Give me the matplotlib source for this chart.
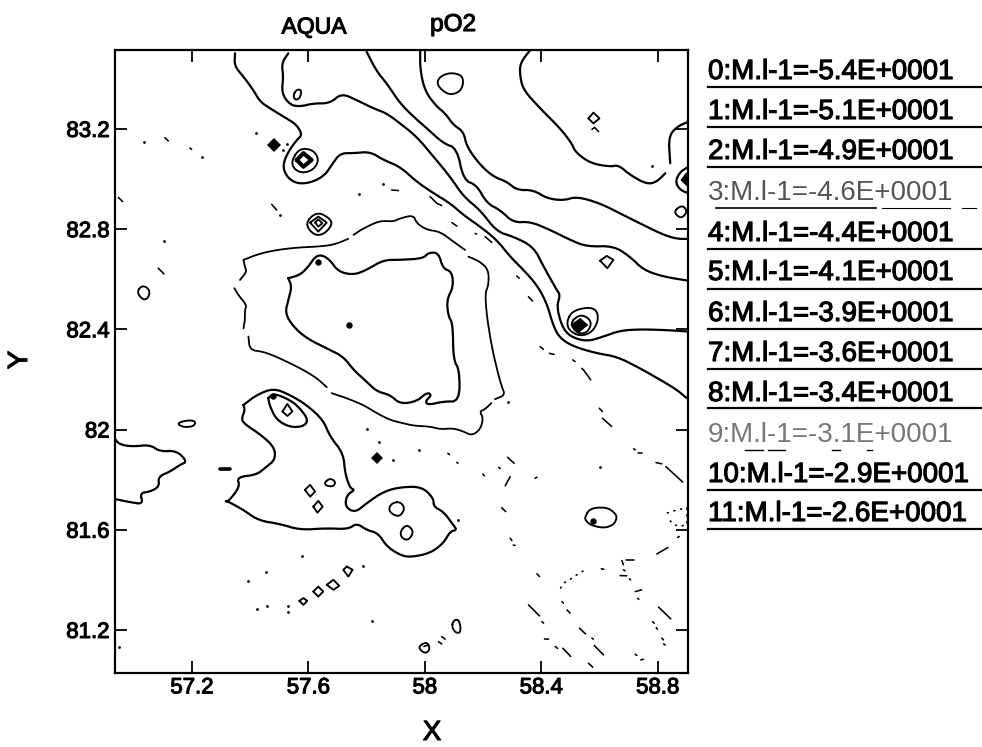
import matplotlib
matplotlib.use("Agg")
import matplotlib.pyplot as plt
import matplotlib.patheffects as pe
from matplotlib.lines import Line2D

plt.rcParams['font.family'] = ['Liberation Sans', 'DejaVu Sans']

x_ticks = [57.2, 57.6, 58.0, 58.4, 58.8]
x_tick_labels = ['57.2', '57.6', '58', '58.4', '58.8']
y_ticks = [81.2, 81.6, 82.0, 82.4, 82.8, 83.2]
y_tick_labels = ['81.2', '81.6', '82', '82.4', '82.8', '83.2']
legend_levels = ['-5.4', '-5.1', '-4.9', '-4.6', '-4.4', '-4.1', '-3.9', '-3.6', '-3.4', '-3.1', '-2.9', '-2.6']

contour_a = [(57.348,83.502),(57.346,83.451),(57.377,83.409),(57.411,83.355),(57.434,83.309),(57.468,83.282),(57.525,83.242),(57.560,83.216),(57.579,83.176),(57.560,83.156),(57.531,83.109),(57.514,83.063),(57.517,83.029),(57.537,82.996),(57.571,82.980),(57.617,82.989),(57.657,83.016),(57.680,83.056),(57.709,83.103),(57.755,83.103),(57.812,83.109),(57.858,83.076),(57.915,83.049),(57.972,82.989),(58.030,82.943),(58.087,82.903),(58.133,82.856),(58.190,82.810),(58.247,82.757),(58.293,82.690),(58.339,82.637),(58.385,82.577),(58.419,82.504),(58.442,82.411),(58.465,82.364),(58.511,82.331),(58.591,82.304),(58.660,82.291),(58.740,82.244),(58.820,82.191),(58.866,82.158),(58.900,82.125)]
contour_b = [(57.531,83.502),(57.508,83.462),(57.514,83.409),(57.508,83.342),(57.537,83.296),(57.571,83.289),(57.617,83.302),(57.674,83.302),(57.714,83.342),(57.766,83.315),(57.823,83.282),(57.869,83.262),(57.915,83.222),(57.972,83.169),(58.030,83.089),(58.087,83.009),(58.133,82.930),(58.190,82.876),(58.247,82.790),(58.304,82.770),(58.373,82.730),(58.408,82.650),(58.453,82.557),(58.465,82.537),(58.453,82.490),(58.471,82.411),(58.499,82.371),(58.556,82.351),(58.614,82.371),(58.671,82.395),(58.740,82.400),(58.831,82.397),(58.906,82.391)]
contour_c = [(57.800,83.508),(57.835,83.429),(57.869,83.382),(57.915,83.302),(57.961,83.249),(58.007,83.202),(58.064,83.142),(58.110,83.123),(58.133,82.996),(58.178,82.976),(58.213,82.903),(58.259,82.876),(58.304,82.826),(58.362,82.830),(58.430,82.797),(58.499,82.757),(58.556,82.730),(58.648,82.733),(58.705,82.690),(58.751,82.637),(58.820,82.610),(58.906,82.594)]
contour_d = [(57.984,83.515),(57.984,83.435),(58.001,83.349),(58.041,83.289),(58.070,83.262),(58.098,83.216),(58.133,83.189),(58.144,83.129),(58.190,83.056),(58.236,83.009),(58.282,82.989),(58.316,82.956),(58.373,82.956),(58.419,82.923),(58.476,82.914),(58.522,82.930),(58.602,82.903),(58.682,82.856),(58.751,82.816),(58.820,82.777),(58.866,82.761),(58.906,82.761)]
contour_e1 = [(58.362,83.515),(58.327,83.462),(58.327,83.409),(58.339,83.355),(58.396,83.282),(58.465,83.202),(58.505,83.142),(58.516,83.109),(58.568,83.063),(58.637,83.049),(58.665,83.056),(58.705,83.016),(58.763,82.979),(58.797,82.989),(58.826,83.023)]
contour_e2 = [(58.843,83.063),(58.837,83.169),(58.866,83.209),(58.906,83.229)]
triangle = [(57.531,82.604),(57.571,82.617),(57.600,82.650),(57.623,82.690),(57.646,82.697),(57.674,82.677),(57.703,82.630),(57.755,82.617),(57.800,82.637),(57.858,82.677),(57.915,82.677),(57.995,82.683),(58.012,82.706),(58.047,82.706),(58.062,82.643),(58.093,82.630),(58.098,82.570),(58.075,82.517),(58.081,82.451),(58.096,82.424),(58.098,82.278),(58.119,82.238),(58.119,82.112),(58.064,82.112),(58.012,82.098),(58.001,82.112),(58.024,82.138),(58.007,82.148),(57.972,82.112),(57.915,82.102),(57.881,82.138),(57.835,82.152),(57.800,82.191),(57.755,82.238),(57.720,82.291),(57.663,82.324),(57.594,82.364),(57.548,82.411),(57.520,82.464),(57.531,82.517),(57.543,82.570),(57.531,82.604)]
lower_shape = [(57.377,82.098),(57.422,82.138),(57.480,82.165),(57.537,82.138),(57.594,82.098),(57.651,82.038),(57.674,81.972),(57.720,81.905),(57.726,81.825),(57.743,81.766),(57.760,81.759),(57.732,81.739),(57.726,81.692),(57.760,81.668),(57.800,81.706),(57.858,81.752),(57.915,81.770),(57.989,81.772),(58.030,81.726),(58.030,81.692),(58.064,81.672),(58.098,81.619),(58.110,81.599),(58.087,81.593),(58.064,81.546),(58.018,81.506),(57.949,81.490),(57.915,81.499),(57.869,81.533),(57.840,81.586),(57.800,81.599),(57.766,81.626),(57.737,81.602),(57.663,81.606),(57.571,81.599),(57.503,81.623),(57.428,81.637),(57.377,81.679),(57.325,81.712),(57.314,81.715),(57.325,81.712),(57.365,81.772),(57.354,81.810),(57.422,81.819),(57.457,81.852),(57.485,81.879),(57.485,81.925),(57.445,81.972),(57.377,82.025),(57.371,82.045),(57.382,82.078),(57.377,82.098)]
left_shape = [(56.933,81.965),(56.953,81.939),(56.999,81.932),(57.056,81.939),(57.090,81.912),(57.147,81.916),(57.184,81.872),(57.159,81.859),(57.125,81.832),(57.084,81.812),(57.088,81.772),(57.056,81.752),(57.021,81.746),(57.033,81.702),(56.987,81.710),(56.933,81.723)]
lower_inner = [(57.462,82.125),(57.480,82.145),(57.537,82.118),(57.571,82.085),(57.600,82.038),(57.583,82.012),(57.537,82.009),(57.491,82.038),(57.468,82.092),(57.462,82.125)]
right_loop = [(58.906,83.049),(58.877,83.029),(58.860,82.989),(58.877,82.956),(58.906,82.943)]

closed_loops = [
    [(58.551,81.653),(58.568,81.686),(58.625,81.690),(58.654,81.666),(58.660,81.646),(58.648,81.619),(58.614,81.606),(58.568,81.619),(58.551,81.639)],
    [(58.041,83.382),(58.052,83.409),(58.087,83.425),(58.127,83.415),(58.133,83.382),(58.121,83.349),(58.087,83.335),(58.058,83.355)],
    [(57.511,82.072),(57.528,82.102),(57.545,82.072),(57.528,82.054)],
    [(57.147,82.025),(57.188,82.038),(57.214,82.032),(57.205,82.012),(57.170,82.009)],
    [(57.588,81.759),(57.606,81.779),(57.623,81.752),(57.606,81.732)],
    [(57.617,81.692),(57.634,81.715),(57.649,81.692),(57.631,81.668)],
    [(57.654,81.786),(57.674,81.806),(57.694,81.792),(57.686,81.772),(57.663,81.775)],
    [(57.732,81.453),(57.752,81.440),(57.737,81.413),(57.720,81.440)],
    [(57.663,81.380),(57.686,81.400),(57.706,81.376),(57.686,81.360)],
    [(57.617,81.353),(57.634,81.373),(57.651,81.353),(57.634,81.333)],
    [(57.569,81.316),(57.583,81.327),(57.596,81.316),(57.583,81.300)],
    [(57.915,81.712),(57.886,81.706),(57.875,81.679),(57.892,81.659),(57.915,81.653),(57.932,81.686)],
    [(57.915,81.593),(57.938,81.622),(57.963,81.593),(57.944,81.557),(57.921,81.566)],
    [(58.093,81.213),(58.098,81.237),(58.115,81.243),(58.123,81.213),(58.121,81.187),(58.104,81.190)],
    [(57.978,81.134),(58.007,81.153),(58.018,81.127),(58.007,81.107),(57.989,81.114)],
    [(57.010,82.550),(57.031,82.577),(57.056,82.557),(57.050,82.524),(57.031,82.517)],
    [(57.548,83.335),(57.560,83.358),(57.577,83.355),(57.571,83.322),(57.554,83.315)],
    [(57.543,83.076),(57.571,83.123),(57.617,83.116),(57.637,83.076),(57.617,83.036),(57.577,83.023),(57.548,83.043)],
    [(57.588,82.823),(57.629,82.870),(57.674,82.843),(57.682,82.816),(57.651,82.777),(57.617,82.777)],
    [(57.606,82.826),(57.634,82.850),(57.663,82.826),(57.634,82.790)],
    [(57.623,82.826),(57.634,82.839),(57.648,82.823),(57.634,82.810)],
    [(58.562,83.242),(58.579,83.265),(58.600,83.242),(58.579,83.222)],
    [(58.854,82.870),(58.883,82.896),(58.900,82.876),(58.894,82.856),(58.877,82.843)],
    [(58.602,82.674),(58.625,82.693),(58.648,82.677),(58.627,82.644)],
    [(58.488,82.437),(58.511,82.477),(58.579,82.490),(58.599,82.451),(58.579,82.391),(58.534,82.371),(58.493,82.397)],
    [(58.499,82.424),(58.528,82.457),(58.556,82.451),(58.574,82.424),(58.556,82.384),(58.522,82.384)],
]
thick_rings = [
    [(57.560,83.076),(57.583,83.103),(57.611,83.076),(57.583,83.049)],
]
filled_peaks = [
    [(58.505,82.417),(58.534,82.440),(58.556,82.417),(58.528,82.391)],
    [(58.883,82.996),(58.900,83.023),(58.906,82.970)],
]

thin_outer = [
    [(57.377,82.677),(57.434,82.703),(57.503,82.719),(57.571,82.727),(57.629,82.730),(57.686,82.737),(57.737,82.761)],
    [(57.755,82.777),(57.789,82.803),(57.846,82.834),(57.892,82.830),(57.915,82.843),(57.961,82.856),(57.972,82.823),(58.007,82.797),(58.052,82.790),(58.098,82.750),(58.138,82.717)],
    [(58.150,82.690),(58.190,82.670),(58.219,82.637),(58.219,82.577),(58.207,82.544),(58.213,82.451),(58.230,82.331),(58.247,82.244),(58.264,82.171),(58.276,82.138),(58.241,82.121)],
    [(58.228,82.105),(58.207,82.081),(58.188,82.072),(58.201,82.045),(58.190,81.999),(58.161,81.976),(58.133,81.992),(58.098,82.005),(58.052,82.001),(58.018,82.012),(57.961,82.015),(57.915,82.028),(57.881,82.038),(57.835,82.065),(57.789,82.098),(57.732,82.125),(57.680,82.145)],
    [(57.663,82.169),(57.629,82.205),(57.583,82.238),(57.503,82.284),(57.445,82.311),(57.399,82.317),(57.394,82.371)],
    [(57.377,82.404),(57.382,82.437),(57.382,82.477),(57.388,82.497),(57.359,82.537),(57.346,82.564)],
    [(57.365,82.597),(57.388,82.630),(57.382,82.650),(57.377,82.677)],
]
short_dashes = [
    [(58.545,82.238),(58.570,82.198)],[(58.599,82.085),(58.610,82.072)],[(58.610,82.045),(58.642,82.012)],
    [(58.717,81.923),(58.723,81.919)],[(58.731,81.905),(58.745,81.905)],[(58.794,81.868),(58.814,81.863)],
    [(58.828,81.852),(58.886,81.790)],[(58.284,81.889),(58.307,81.865)],[(58.254,81.849),(58.259,81.844)],
    [(58.199,81.822),(58.205,81.815)],[(58.293,81.812),(58.276,81.775)],[(58.379,81.805),(58.385,81.810)],
    [(58.264,81.688),(58.278,81.672)],[(58.293,81.566),(58.299,81.557)],[(58.304,81.539),(58.310,81.537)],
    [(58.385,81.424),(58.394,81.413)],[(58.356,81.300),(58.394,81.256)],[(58.402,81.233),(58.408,81.227)],
    [(58.411,81.164),(58.425,81.163)],[(58.448,81.134),(58.456,81.126)],[(58.474,81.127),(58.501,81.094)],
    [(58.531,81.207),(58.552,81.184)],[(58.574,81.167),(58.579,81.163)],[(58.582,81.138),(58.614,81.100)],
    [(58.562,81.067),(58.577,81.051)],[(58.488,81.280),(58.499,81.267)],[(58.471,81.313),(58.476,81.307)],
    [(58.803,81.291),(58.845,81.244)],[(58.782,81.233),(58.788,81.227)],[(58.795,81.209),(58.799,81.203)],
    [(58.814,81.167),(58.820,81.160)],[(58.820,81.144),(58.826,81.140)],[(58.723,81.103),(58.728,81.098)],
    [(58.742,81.080),(58.751,81.083)],[(58.079,81.905),(58.085,81.900)],[(58.110,81.869),(58.114,81.865)],
    [(58.797,81.503),(58.835,81.529)],[(58.868,81.569),(58.874,81.573)],[(58.677,81.477),(58.682,81.460)],
    [(58.692,81.480),(58.717,81.480)],[(58.682,81.440),(58.688,81.436)],[(58.671,81.417),(58.694,81.416)],
    [(58.703,81.404),(58.707,81.400)],[(58.606,81.444),(58.615,81.442)],[(58.723,81.353),(58.745,81.360)],
    [(58.731,81.326),(58.735,81.322)],
    [(58.018,82.930),(58.041,82.903),(58.058,82.894)],[(58.093,82.826),(58.110,82.812)],[(58.173,82.783),(58.178,82.780)],
    [(58.207,82.770),(58.230,82.747)],[(58.316,82.613),(58.324,82.604)],[(58.356,82.530),(58.370,82.513)],
    [(58.396,82.331),(58.407,82.320)],[(58.428,82.304),(58.444,82.300)],[(58.508,82.278),(58.516,82.271)],
    [(58.539,82.244),(58.545,82.238)],
    [(57.107,83.165),(57.119,83.152)],[(57.193,83.124),(57.199,83.118)],[(56.947,82.927),(56.962,82.910)],
    [(57.084,82.644),(57.104,82.621)],[(57.886,82.956),(57.909,82.954)],[(57.474,82.899),(57.491,82.876)],
    [(58.574,83.198),(58.583,83.206),(58.597,83.189)],[(58.047,81.153),(58.058,81.144)],[(58.058,81.173),(58.070,81.163)],
    [(57.997,81.134),(58.012,81.140)],
]
dotted_curves = [
    [(58.545,81.436),(58.522,81.420),(58.499,81.402),(58.476,81.386),(58.463,81.360)],
    [(58.831,81.666),(58.866,81.679),(58.900,81.688),(58.900,81.619),(58.871,81.613),(58.849,81.626),(58.837,81.646)],
]
small_dots = [(57.577,81.497),(57.453,81.432),(57.391,81.396),(57.422,81.285),(57.457,81.297),(57.531,81.297),(57.531,81.273),(57.789,81.456),(57.820,81.237),(56.949,81.130),(57.800,82.001),(57.844,81.952),(57.892,81.879),(58.602,81.852),(57.980,81.919),(57.419,83.185),(57.035,83.148),(57.233,83.087),(57.105,82.754),(57.775,82.939),(57.858,82.979),(57.503,82.856),(57.525,83.140),(57.514,83.116),(58.780,83.052),(58.113,81.637),(58.285,82.109)]
big_dots = [(57.477,82.132),(57.634,82.667),(57.740,82.417),(58.577,81.635)]
large_blob = [(57.482,83.136)]
small_blob = [(57.835,81.885)]
ellipse_mark = [(57.298,81.843),(57.330,81.843)]

fig = plt.figure(figsize=(9.82, 7.47), dpi=100)
W, H = 982, 747
ax = fig.add_axes([114.5/W, 1-672.5/H, (688-114.5)/W, (672.5-50)/H])
ax.set_xlim(56.934, 58.904)
ax.set_ylim(81.03, 83.515)


def rounded(points, closed=False):
    """Round the corners of a digitised outline when it is stroked."""
    pts = list(points)
    for _ in range(2):
        out = [pts[0]] if not closed else []
        n = len(pts)
        for i in range(n if closed else n - 1):
            a, b = pts[i], pts[(i + 1) % n]
            out.append((0.75*a[0]+0.25*b[0], 0.75*a[1]+0.25*b[1]))
            out.append((0.25*a[0]+0.75*b[0], 0.25*a[1]+0.75*b[1]))
        if not closed:
            out.append(pts[-1])
        pts = out
    return pts + pts[:1] if closed else pts


def draw(points, **kw):
    ax.plot([p[0] for p in points], [p[1] for p in points], color='black',
            solid_joinstyle='round', solid_capstyle='round', **kw)


for line in [contour_a, contour_b, contour_c, contour_d, contour_e1, contour_e2,
             triangle, lower_shape, left_shape, lower_inner, right_loop]:
    draw(rounded(line), lw=1.6)
for loop in closed_loops:
    if len(loop) > 4:
        draw(rounded(loop, closed=True), lw=1.35)
    else:
        draw(loop + loop[:1], lw=1.35)
for ring in thick_rings:
    draw(ring + ring[:1], lw=3.0)
for peak in filled_peaks:
    ax.fill([p[0] for p in peak], [p[1] for p in peak], color='black', lw=1.5)
for seg in thin_outer:
    draw(rounded(seg), lw=1.3)
for seg in short_dashes:
    draw(seg, lw=1.15)
for seg in dotted_curves:
    ax.plot([p[0] for p in seg], [p[1] for p in seg], color='black', lw=1.1, ls=(0, (1.5, 3)))
ax.plot([p[0] for p in small_dots], [p[1] for p in small_dots], ls='none', marker='o', ms=2.0, color='black', mew=0)
ax.plot([p[0] for p in big_dots], [p[1] for p in big_dots], ls='none', marker='o', ms=4.6, color='black', mew=0)
ax.plot([p[0] for p in large_blob], [p[1] for p in large_blob], ls='none', marker='D', ms=7.5, color='black', mew=0)
ax.plot([p[0] for p in small_blob], [p[1] for p in small_blob], ls='none', marker='D', ms=6, color='black', mew=0)
draw(ellipse_mark, lw=2.6)

for s in ax.spines.values():
    s.set_linewidth(1.6)
ax.set_xticks(x_ticks, x_tick_labels)
ax.set_yticks(y_ticks, y_tick_labels)
ax.tick_params(direction='in', length=8.6, width=1.3, top=True, right=True, labelsize=16)
ax.tick_params(axis='x', pad=3.5)
ax.tick_params(axis='y', pad=3.5)
stroke = [pe.withStroke(linewidth=0.8, foreground='black')]
for t in ax.get_xticklabels() + ax.get_yticklabels():
    t.set_path_effects(stroke)


def fig_text(px, py, s, **kw):
    return fig.text(px/W, 1-py/H, s, **kw)


fig_text(314, 27, 'AQUA', ha='center', va='center', fontsize=16.5, path_effects=stroke)
fig_text(453, 25, 'pO2', ha='center', va='center', fontsize=17.5, path_effects=stroke)
fig_text(432, 733, 'X', ha='center', va='center', fontsize=20, path_effects=stroke)
fig_text(20, 360, 'Y', ha='center', va='center', rotation=90, fontsize=20, path_effects=stroke)

baselines = [79, 119, 159, 200, 241, 280, 321, 361, 401, 442, 482, 521]
rules = [87, 127, 167, 208, 249, 289, 329, 369, 408, 450, 490, 529]
faded = {3: '#555555', 9: '#777777'}
fragments = {3: [(716, 876, 1.2), (882, 950, 0.8), (962, 976, 0.8)],
             9: [(745, 763, 1.0), (768, 785, 1.0), (832, 840, 1.0), (867, 872, 1.0)]}
for i, lev in enumerate(legend_levels):
    label = f'{i}:M.l-1={lev}E+0001'
    if i in faded:
        fig_text(708, baselines[i], label, ha='left', va='baseline', fontsize=20, color=faded[i])
    else:
        fig_text(708, baselines[i], label, ha='left', va='baseline', fontsize=20, path_effects=stroke)
    for x0, x1, lw in fragments.get(i, [(708, 982, 1.6)]):
        fig.add_artist(Line2D([x0/W, x1/W], [1-rules[i]/H, 1-rules[i]/H], color='black', lw=lw))

fig.savefig('out.png', dpi=100)
